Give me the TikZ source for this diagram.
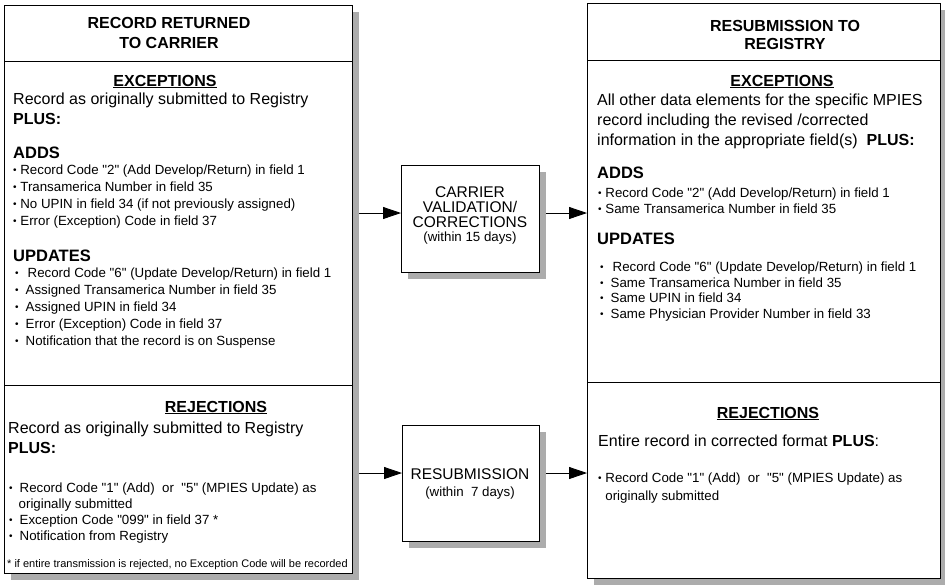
\documentclass[tikz,border=0pt]{standalone}
\usepackage{fontspec}
\setmainfont{Liberation Sans}
\usetikzlibrary{arrows.meta,shadows}

\newcommand{\dotb}{\raisebox{0.6pt}{\fontsize{10}{10}\selectfont\textbullet}}
\newcommand{\qd}[1]{\textquotedbl#1\textquotedbl}

\begin{document}
\begin{tikzpicture}[x=1pt, y=-1pt,
    panel/.style={draw, line width=0.9pt, fill=white, inner sep=0pt, outer sep=0pt,
      drop shadow={shadow xshift=7pt, shadow yshift=-7pt, fill=gray!65, opacity=1}},
    title/.style={font=\fontsize{16}{20}\selectfont\bfseries, align=center, anchor=base, inner sep=0pt},
    head/.style={font=\fontsize{16}{19}\selectfont\bfseries, anchor=base, inner sep=0pt},
    body/.style={font=\fontsize{16}{19.5}\selectfont, align=left, anchor=base west, inner sep=0pt},
    sub/.style={font=\fontsize{16.5}{20}\selectfont\bfseries, anchor=base west, inner sep=0pt},
    items/.style={font=\fontsize{13.3}{#1}\selectfont, align=left, anchor=base west, inner sep=0pt},
    items/.default=17,
    boxtext/.style={font=\fontsize{15.5}{15}\selectfont, align=center, anchor=base, inner sep=0pt},
    flow/.style={line width=0.8pt, -{Triangle[length=18pt, width=12pt]}}]

    % Page frame
    \useasboundingbox (0,0) rectangle (945,587);

    % The four boxes
    \node[panel, minimum width=348pt, minimum height=568pt] (ret) at (178,289) {};
    \node[panel, minimum width=353pt, minimum height=575pt] (reg) at (763.5,290.5) {};
    \node[panel, minimum width=138pt, minimum height=107pt] (val) at (470,218.5) {};
    \node[panel, minimum width=137pt, minimum height=116pt] (resub) at (470.5,483) {};

    % Section dividers
    \draw[line width=0.9pt] (ret.west |- 0,61) -- (ret.east |- 0,61);
    \draw[line width=0.9pt] (ret.west |- 0,385) -- (ret.east |- 0,385);
    \draw[line width=0.9pt] (reg.west |- 0,60) -- (reg.east |- 0,60);
    \draw[line width=0.9pt] (reg.west |- 0,382) -- (reg.east |- 0,382);

    % Record returned to carrier (multi-line nodes sit on their last line)
    \node[title] (rettitle) at (169,48) {RECORD RETURNED\\TO CARRIER};
    \node[head] (retexc) at (165,86) {\underline{EXCEPTIONS}};
    \node[body] (retintro) at (13,124) {Record as originally submitted to Registry\\\textbf{PLUS:}};
    \node[sub] (retadds) at (13,158) {ADDS};
    \node[items] (retaddlist) at (13,225) {\dotb\ Record Code \qd{2} (Add Develop/Return) in field 1\\\dotb\ Transamerica Number in field 35\\\dotb\ No UPIN in field 34 (if not previously assigned)\\\dotb\ Error (Exception) Code in field 37};
    \node[sub] (retupd) at (13,261) {UPDATES};
    \node[items] (retupdlist) at (15,345) {\dotb\hspace{9pt}Record Code \qd{6} (Update Develop/Return) in field 1\\\dotb\hspace{7pt}Assigned Transamerica Number in field 35\\\dotb\hspace{7pt}Assigned UPIN in field 34\\\dotb\hspace{7pt}Error (Exception) Code in field 37\\\dotb\hspace{7pt}Notification that the record is on Suspense};
    \node[head] (retrej) at (216,412) {\underline{REJECTIONS}};
    \node[body] (retintro2) at (8,453) {Record as originally submitted to Registry\\\textbf{PLUS:}};
    \node[items=16] (retrejlist) at (9,540) {\dotb\hspace{7pt}Record Code \qd{1} (Add)\ \ or\ \ \qd{5} (MPIES Update) as\\\phantom{\dotb}\hspace{6pt}originally submitted\\\dotb\hspace{7pt}Exception Code \qd{099} in field 37 *\\\dotb\hspace{7pt}Notification from Registry};
    \node[font=\fontsize{11}{13}\selectfont, anchor=base west, inner sep=0pt] (retnote) at (7,567) {* if entire transmission is rejected, no Exception Code will be recorded};

    % Middle steps
    \node[boxtext] (valtext) at (470,241) {CARRIER\\VALIDATION/\\CORRECTIONS\\[-1.5pt]{\fontsize{13.3}{14}\selectfont(within 15 days)}};
    \node[boxtext] (resubtext) at (470,496) {RESUBMISSION\\[2pt]{\fontsize{13.3}{14}\selectfont(within\ \ 7 days)}};

    % Resubmission to registry
    \node[title, font=\fontsize{16}{18}\selectfont\bfseries] (regtitle) at (785,49) {RESUBMISSION TO\\REGISTRY};
    \node[head] (regexc) at (782,86) {\underline{EXCEPTIONS}};
    \node[body, font=\fontsize{16}{20}\selectfont] (regintro) at (597,145) {All other data elements for the specific MPIES\\record including the revised /corrected\\information in the appropriate field(s)\ \ \textbf{PLUS:}};
    \node[sub] (regadds) at (597,178) {ADDS};
    \node[items=16] (regaddlist) at (598,213) {\dotb\ Record Code \qd{2} (Add Develop/Return) in field 1\\\dotb\ Same Transamerica Number in field 35};
    \node[sub] (regupd) at (597,244) {UPDATES};
    \node[items=15.5] (regupdlist) at (600,318) {\dotb\hspace{9pt}Record Code \qd{6} (Update Develop/Return) in field 1\\\dotb\hspace{7pt}Same Transamerica Number in field 35\\\dotb\hspace{7pt}Same UPIN in field 34\\\dotb\hspace{7pt}Same Physician Provider Number in field 33};
    \node[head] (regrej) at (768,418) {\underline{REJECTIONS}};
    \node[body] (regintro2) at (598,446) {Entire record in corrected format \textbf{PLUS}:};
    \node[items=17.5] (regrejlist) at (598,500) {\dotb\ Record Code \qd{1} (Add)\ \ or\ \ \qd{5} (MPIES Update) as\\\phantom{\dotb}\ originally submitted};

    % Arrows
    \coordinate (upper) at (0,213);
    \coordinate (lower) at (0,473);
    \draw[flow] ([xshift=7pt]ret.east |- upper) -- (val.west |- upper);
    \draw[flow] ([xshift=7pt]val.east |- upper) -- (reg.west |- upper);
    \draw[flow] ([xshift=7pt]ret.east |- lower) -- (resub.west |- lower);
    \draw[flow] ([xshift=7pt]resub.east |- lower) -- (reg.west |- lower);
\end{tikzpicture}
\end{document}
